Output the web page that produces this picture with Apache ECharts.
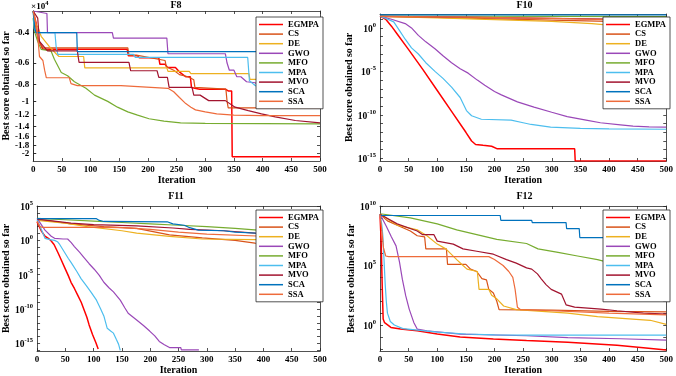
<!DOCTYPE html>
<html>
<head>
<meta charset="utf-8">
<script src="https://cdn.jsdelivr.net/npm/echarts@6/dist/echarts.min.js"></script>
<style>
  html, body { margin: 0; padding: 0; background: #fff; }
  #chart { width: 676px; height: 376px; }
</style>
</head>
<body>
<div id="chart"></div>
<script>
const algos = ['EGMPA', 'CS', 'DE', 'GWO', 'MFO', 'MPA', 'MVO', 'SCA', 'SSA'];
const colors = ['#FF0000', '#D95319', '#EDB120', '#9A48B8', '#77AC30', '#4DBEEE', '#A2142F', '#0072BD', '#EE6B3B'];
const iterTicks = [0, 50, 100, 150, 200, 250, 300, 350, 400, 450, 500];

// F8: best score in units of 1e4, [iteration, value]
const f8Ticks = [-0.4, -0.6, -0.8, -1, -1.2, -1.4, -1.6, -1.8, -2];
const f8EGMPA = [[0,-0.30],[5,-0.35],[8,-0.43],[17,-0.50],[164,-0.50],[166,-0.545],[182,-0.545],[185,-0.56],[219,-0.56],[221,-0.61],[230,-0.61],[234,-0.636],[248,-0.636],[256,-0.68],[266,-0.72],[274,-0.72],[276,-0.83],[290,-0.85],[335,-0.85],[340,-0.87],[346,-0.87],[347,-2.09],[500,-2.09]];
const f8CS = [[0,-0.30],[5,-0.38],[10,-0.45],[17,-0.49],[165,-0.49],[167,-0.54],[180,-0.54],[230,-0.58],[232,-0.63],[245,-0.66],[255,-0.70],[270,-0.72],[280,-0.75],[282,-0.83],[336,-0.85],[338,-1.0],[340,-1.09],[500,-1.09]];
const f8DE = [[0,-0.30],[5,-0.36],[8,-0.37],[14,-0.42],[28,-0.48],[40,-0.53],[45,-0.55],[88,-0.55],[90,-0.64],[233,-0.64],[235,-0.67],[272,-0.67],[275,-0.69],[376,-0.69],[378,-0.745],[500,-0.745]];
const f8GWO = [[0,-0.30],[24,-0.31],[25,-0.40],[138,-0.40],[140,-0.43],[233,-0.43],[235,-0.53],[335,-0.53],[338,-0.60],[342,-0.66],[350,-0.66],[355,-0.72],[362,-0.72],[372,-0.77],[387,-0.78],[398,-0.83],[422,-0.87],[457,-0.92],[480,-0.98],[500,-1.0]];
const f8MFO = [[0,-0.33],[3,-0.40],[8,-0.45],[14,-0.50],[31,-0.51],[37,-0.57],[49,-0.68],[60,-0.71],[72,-0.77],[92,-0.84],[107,-0.92],[130,-1.0],[147,-1.08],[165,-1.15],[182,-1.20],[202,-1.26],[228,-1.30],[257,-1.33],[300,-1.34],[500,-1.35]];
const f8MPA = [[0,-0.30],[2,-0.38],[5,-0.40],[38,-0.40],[40,-0.48],[43,-0.535],[175,-0.535],[178,-0.557],[374,-0.557],[377,-0.76],[385,-0.80],[398,-0.85],[430,-0.90],[470,-0.95],[500,-0.99]];
const f8MVO = [[0,-0.30],[8,-0.33],[11,-0.45],[25,-0.51],[77,-0.51],[80,-0.595],[167,-0.595],[170,-0.665],[216,-0.665],[219,-0.726],[234,-0.726],[237,-0.83],[277,-0.83],[280,-0.92],[291,-0.92],[306,-0.99],[335,-0.99],[352,-1.08],[375,-1.13],[398,-1.18],[422,-1.23],[457,-1.29],[500,-1.33]];
const f8SCA = [[0,-0.30],[3,-0.38],[5,-0.40],[76,-0.40],[77,-0.515],[500,-0.515]];
const f8SSA = [[0,-0.30],[5,-0.36],[8,-0.42],[11,-0.55],[17,-0.58],[20,-0.66],[23,-0.73],[63,-0.73],[66,-0.79],[77,-0.81],[153,-0.81],[155,-0.83],[235,-0.84],[245,-0.88],[255,-0.95],[266,-1.03],[275,-1.08],[283,-1.12],[300,-1.15],[320,-1.18],[350,-1.20],[400,-1.21],[500,-1.21]];

// F10: log10 of best score
const f10Ticks = [-15, -10, -5, 0];
const f10EGMPA = [[0,1.35],[10,1.0],[20,0.2],[30,-0.7],[50,-2.5],[75,-4.8],[100,-7.2],[125,-9.6],[150,-12.0],[160,-13.0],[167,-13.4],[180,-13.5],[195,-13.6],[205,-13.9],[340,-13.9],[341,-15.3],[500,-15.3]];
const f10CS = [[0,1.33],[100,1.2],[200,1.05],[300,0.9],[400,0.75],[500,0.6]];
const f10DE = [[0,1.33],[100,1.15],[200,0.95],[300,0.75],[370,0.5],[420,0.2],[460,0.0],[500,-0.4]];
const f10GWO = [[0,1.35],[20,1.0],[44,0.5],[55,0.0],[67,-0.86],[80,-1.6],[96,-2.4],[110,-3.2],[125,-4.0],[140,-4.7],[154,-5.2],[170,-6.0],[183,-6.6],[200,-7.3],[212,-7.7],[240,-8.5],[269,-9.1],[300,-9.7],[327,-10.2],[360,-10.6],[385,-10.9],[420,-11.15],[442,-11.3],[470,-11.38],[500,-11.4]];
const f10MFO = [[0,1.35],[150,1.34],[300,1.32],[500,1.3]];
const f10MPA = [[0,1.35],[10,1.1],[24,0.7],[35,-0.4],[44,-1.3],[55,-2.3],[67,-3.0],[80,-4.0],[96,-5.0],[110,-5.8],[125,-6.8],[140,-8.0],[151,-9.5],[160,-10.1],[177,-10.5],[229,-10.6],[250,-10.9],[264,-11.1],[298,-11.4],[350,-11.55],[400,-11.6],[500,-11.65]];
const f10MVO = [[0,1.33],[100,1.28],[200,1.18],[300,1.1],[400,1.0],[500,0.95]];
const f10SCA = [[0,1.5],[500,1.5]];
const f10SSA = [[0,1.33],[150,1.25],[300,1.1],[400,0.95],[500,0.85]];

// F11: log10 of best score (runs stop once the score reaches 0)
const f11Ticks = [-15, -10, -5, 0, 5];
const f11EGMPA = [[0,2.7],[8,1.3],[14,0.6],[20,0.3],[25,-0.1],[30,-0.6],[37,-1.8],[43,-2.9],[49,-4.0],[55,-5.1],[60,-6.1],[66,-7.0],[72,-8.0],[78,-9.0],[83,-10.1],[88,-11.2],[92,-12.3],[98,-13.7],[104,-14.9],[108,-15.8]];
const f11CS = [[0,3.1],[60,2.4],[118,2.0],[176,1.75],[234,0.8],[292,0.35],[350,0.0],[385,-0.4],[440,-0.6],[500,-0.86]];
const f11DE = [[0,2.9],[50,2.5],[89,2.0],[150,1.4],[176,1.05],[234,0.57],[292,0.2],[385,0.1],[450,-0.1],[500,-0.4]];
const f11GWO = [[0,3.2],[14,1.5],[25,0.6],[31,0.3],[46,0.2],[54,0.2],[60,-0.3],[66,-0.9],[75,-1.7],[83,-2.5],[92,-3.4],[101,-4.2],[110,-5.1],[118,-6.1],[127,-6.9],[135,-7.5],[147,-8.7],[155,-9.8],[161,-10.6],[176,-11.6],[188,-12.4],[199,-13.2],[208,-13.9],[216,-14.7],[225,-15.2],[234,-15.6],[254,-15.6],[255,-15.95],[286,-15.95]];
const f11MFO = [[0,3.2],[50,3.0],[100,2.8],[150,2.6],[200,2.4],[250,2.2],[300,2.0],[350,1.75],[390,1.5],[450,1.3],[500,1.15]];
const f11MPA = [[0,3.0],[8,1.5],[14,0.3],[23,0.1],[31,0.0],[36,-0.2],[40,-0.6],[49,-1.8],[55,-2.6],[60,-3.2],[70,-4.5],[78,-5.6],[87,-6.6],[95,-7.5],[105,-8.7],[112,-9.9],[118,-11.0],[124,-12.8],[130,-13.2],[135,-13.5],[140,-14.4],[144,-15.1],[147,-16.0]];
const f11MVO = [[0,3.1],[30,2.8],[60,2.5],[100,2.3],[176,2.1],[240,1.8],[270,1.6],[330,1.4],[385,1.05],[450,0.7],[500,0.35]];
const f11SCA = [[0,3.15],[105,3.15],[110,2.9],[118,2.75],[230,2.7],[240,2.4],[260,2.2],[268,1.9],[285,1.5],[330,1.4],[350,1.2],[400,1.0],[500,0.8]];
const f11SSA = [[0,2.8],[5,2.0],[10,1.9],[118,1.9],[150,1.85],[200,1.6],[250,1.2],[300,0.9],[400,0.6],[500,0.5]];

// F12: log10 of best score
const f12Ticks = [0, 5, 10];
const f12EGMPA = [[0,9.3],[2,7.0],[4,3.0],[5.5,0.5],[8,0.2],[11,0.05],[19,-0.2],[36,-0.34],[65,-0.48],[100,-0.76],[140,-1.0],[198,-1.17],[256,-1.3],[328,-1.45],[414,-1.7],[460,-1.9],[500,-2.1]];
const f12CS = [[0,9.3],[13,8.75],[53,7.9],[65,7.5],[78,7.4],[80,6.4],[116,6.4],[118,5.1],[150,5.1],[158,4.7],[169,4.5],[178,3.9],[186,3.8],[190,3.0],[198,2.7],[204,2.0],[208,1.3],[300,1.25],[400,1.15],[500,1.1]];
const f12DE = [[0,9.3],[30,8.4],[65,8.0],[82,7.5],[100,6.8],[115,6.4],[134,5.5],[145,5.0],[152,4.7],[170,4.5],[173,3.0],[190,3.0],[195,2.5],[204,2.2],[216,1.6],[238,1.3],[328,1.0],[380,0.7],[472,0.4],[500,0.05]];
const f12GWO = [[0,9.3],[11,8.3],[20,7.4],[28,6.65],[34,5.3],[39,3.85],[45,2.45],[51,1.34],[59,0.22],[65,-0.34],[82,-0.48],[140,-0.76],[256,-0.9],[328,-1.05],[420,-1.15],[500,-1.26]];
const f12MFO = [[0,9.35],[53,9.0],[100,8.5],[134,8.0],[169,7.6],[204,7.2],[256,6.85],[276,6.4],[311,6.1],[345,5.8],[380,5.5],[420,5.0],[460,4.3],[480,3.6],[500,3.0]];
const f12MPA = [[0,9.3],[3,8.5],[5,7.5],[7,5.5],[9,3.5],[11,2.0],[13,1.0],[18,0.3],[25,0.0],[40,-0.3],[70,-0.45],[100,-0.6],[150,-0.75],[200,-0.82],[250,-0.84],[500,-0.84]];
const f12MVO = [[0,9.3],[30,8.5],[65,7.9],[74,7.6],[94,7.6],[100,7.05],[128,6.8],[145,6.4],[169,6.2],[198,5.95],[221,5.5],[238,5.2],[256,4.8],[265,4.7],[275,4.3],[282,3.86],[290,3.4],[299,3.0],[317,2.6],[325,1.7],[340,1.5],[386,1.34],[414,1.2],[460,1.0],[500,0.92]];
const f12SCA = [[0,9.2],[210,9.2],[211,8.8],[265,8.8],[266,8.6],[325,8.6],[326,8.1],[348,8.1],[349,7.35],[440,7.35],[441,6.5],[500,6.5]];
const f12SSA = [[0,9.3],[3,8.0],[6,6.5],[10,5.8],[15,5.75],[190,5.75],[200,5.5],[215,5.0],[225,4.5],[232,4.0],[236,3.0],[240,1.5],[245,1.3],[300,1.2],[400,1.0],[500,0.85]];

const FONT = "'Liberation Serif', 'Times New Roman', serif";
const AXIS_COLOR = '#262626';

function decades(a, b) {
  const out = [];
  for (let i = a; i <= b; i++) out.push(i);
  return out;
}

const f8Pos = f8Ticks.map(t => Math.log10(-t));
const f8Fmt = v => String(Math.round(-Math.pow(10, v) * 10) / 10);
const logFmt = v => '{b|10}{s|' + v + '}';

const panels = [
  {
    title: 'F8', titleTop: 0, grid: {left: 32, top: 11, width: 288, height: 150},
    data: [f8EGMPA, f8CS, f8DE, f8GWO, f8MFO, f8MPA, f8MVO, f8SCA, f8SSA],
    toY: v => Math.log10(-v), min: -0.523, max: 0.345, inverse: true,
    // F8 labels are close together near the bottom, so split them over two axes
    labelSets: [f8Pos.filter((_, k) => k % 2 === 0), f8Pos.filter((_, k) => k % 2 === 1)],
    ticks: f8Pos, fmt: f8Fmt,
    legendPos: {left: 256, top: 17}
  },
  {
    title: 'F10', titleTop: 0, grid: {left: 380, top: 14, width: 289, height: 147},
    data: [f10EGMPA, f10CS, f10DE, f10GWO, f10MFO, f10MPA, f10MVO, f10SCA, f10SSA],
    toY: v => v, min: -15.3, max: 1.6, inverse: false,
    labelSets: [f10Ticks], ticks: decades(-15, 1), fmt: logFmt,
    legendPos: {left: 603, top: 17}
  },
  {
    title: 'F11', titleTop: 191, grid: {left: 32, top: 206, width: 288, height: 146},
    data: [f11EGMPA, f11CS, f11DE, f11GWO, f11MFO, f11MPA, f11MVO, f11SCA, f11SSA],
    toY: v => v, min: -16.1, max: 5, inverse: false,
    labelSets: [f11Ticks], ticks: decades(-16, 5), fmt: logFmt,
    legendPos: {left: 256, top: 210}
  },
  {
    title: 'F12', titleTop: 191, grid: {left: 380, top: 206, width: 289, height: 146},
    data: [f12EGMPA, f12CS, f12DE, f12GWO, f12MFO, f12MPA, f12MVO, f12SCA, f12SSA],
    toY: v => v, min: -2.18, max: 10, inverse: false,
    labelSets: [f12Ticks], ticks: decades(-2, 10), fmt: logFmt,
    legendPos: {left: 603, top: 210}
  }
];

const labelRich = {
  b: {fontFamily: FONT, fontWeight: 'bold', fontSize: 9.5, color: '#000', verticalAlign: 'bottom', lineHeight: 13},
  s: {fontFamily: FONT, fontWeight: 'bold', fontSize: 6.5, color: '#000', verticalAlign: 'top', lineHeight: 13}
};

const lineStyle = {color: AXIS_COLOR, width: 0.8};
const grids = [], xAxes = [], yAxes = [], series = [], legends = [], titles = [];

panels.forEach((p, i) => {
  grids.push(p.grid);
  titles.push({
    text: p.title, left: p.grid.left + p.grid.width / 2, top: p.titleTop,
    textAlign: 'center', padding: 0,
    textStyle: {fontFamily: FONT, fontWeight: 'bold', fontSize: 10, color: '#000'}
  });

  const xBase = {
    gridIndex: i, type: 'value', min: 0, max: 500, interval: 50,
    axisLine: {show: true, onZero: false, lineStyle},
    axisTick: {show: true, inside: true, length: 3, lineStyle},
    splitLine: {show: false}
  };
  const xMain = xAxes.length;
  xAxes.push(Object.assign({}, xBase, {
    position: 'bottom',
    axisLabel: {fontFamily: FONT, fontWeight: 'bold', fontSize: 9, color: '#000', margin: 4},
    name: 'Iteration', nameLocation: 'middle', nameGap: 14,
    nameTextStyle: {fontFamily: FONT, fontWeight: 'bold', fontSize: 10, color: '#000'}
  }));
  xAxes.push(Object.assign({}, xBase, {position: 'top', axisLabel: {show: false}}));

  const yBase = {
    gridIndex: i, type: 'value', min: p.min, max: p.max, inverse: p.inverse,
    axisLine: {show: true, onZero: false, lineStyle},
    axisTick: {show: true, inside: true, length: 3, lineStyle, customValues: p.ticks},
    splitLine: {show: false}
  };
  const yMain = yAxes.length;
  p.labelSets.forEach((set, k) => {
    yAxes.push(Object.assign({}, yBase, {
      position: 'left', offset: 0,
      axisLabel: {
        customValues: set, formatter: p.fmt, margin: 4, hideOverlap: false,
        fontFamily: FONT, fontWeight: 'bold', fontSize: 9, lineHeight: 9, color: '#000', rich: labelRich
      },
      name: k === 0 ? 'Best score obtained so far' : '',
      nameLocation: 'middle', nameGap: 17, nameRotate: 90,
      nameTextStyle: {fontFamily: FONT, fontWeight: 'bold', fontSize: 10, color: '#000'}
    }));
  });
  yAxes.push(Object.assign({}, yBase, {position: 'right', axisLabel: {show: false}}));

  p.data.forEach((arr, j) => {
    series.push({
      type: 'line', name: algos[j],
      xAxisIndex: xMain, yAxisIndex: yMain,
      data: arr.map(d => [d[0], p.toY(d[1])]),
      showSymbol: false, symbol: 'none',
      lineStyle: {width: j === 0 ? 1.5 : 1.2, color: colors[j]},
      itemStyle: {color: colors[j]},
      silent: true, animation: false
    });
  });

  legends.push({
    orient: 'vertical', left: p.legendPos.left, top: p.legendPos.top,
    icon: 'rect', itemWidth: 24, itemHeight: 1.5, itemGap: 0.6,
    padding: [3, 4, 3, 3],
    backgroundColor: '#fff', borderColor: AXIS_COLOR, borderWidth: 0.8,
    textStyle: {fontFamily: FONT, fontWeight: 'bold', fontSize: 8.5, color: '#000', lineHeight: 8.3},
    data: algos, selectedMode: false, z: 10
  });
});

// the x10^4 multiplier of the F8 axis
titles.push({
  text: '{a|\u00d710}{s|4}', left: 31, top: 0, padding: 0,
  textStyle: {
    rich: {
      a: {fontFamily: FONT, fontWeight: 'bold', fontSize: 9, color: '#000', verticalAlign: 'bottom', lineHeight: 11},
      s: {fontFamily: FONT, fontWeight: 'bold', fontSize: 6.5, color: '#000', verticalAlign: 'top', lineHeight: 11}
    }
  }
});

const chart = echarts.init(document.getElementById('chart'));
chart.setOption({
  backgroundColor: '#fff',
  animation: false,
  title: titles,
  grid: grids,
  xAxis: xAxes,
  yAxis: yAxes,
  legend: legends,
  series: series
});
</script>
</body>
</html>
